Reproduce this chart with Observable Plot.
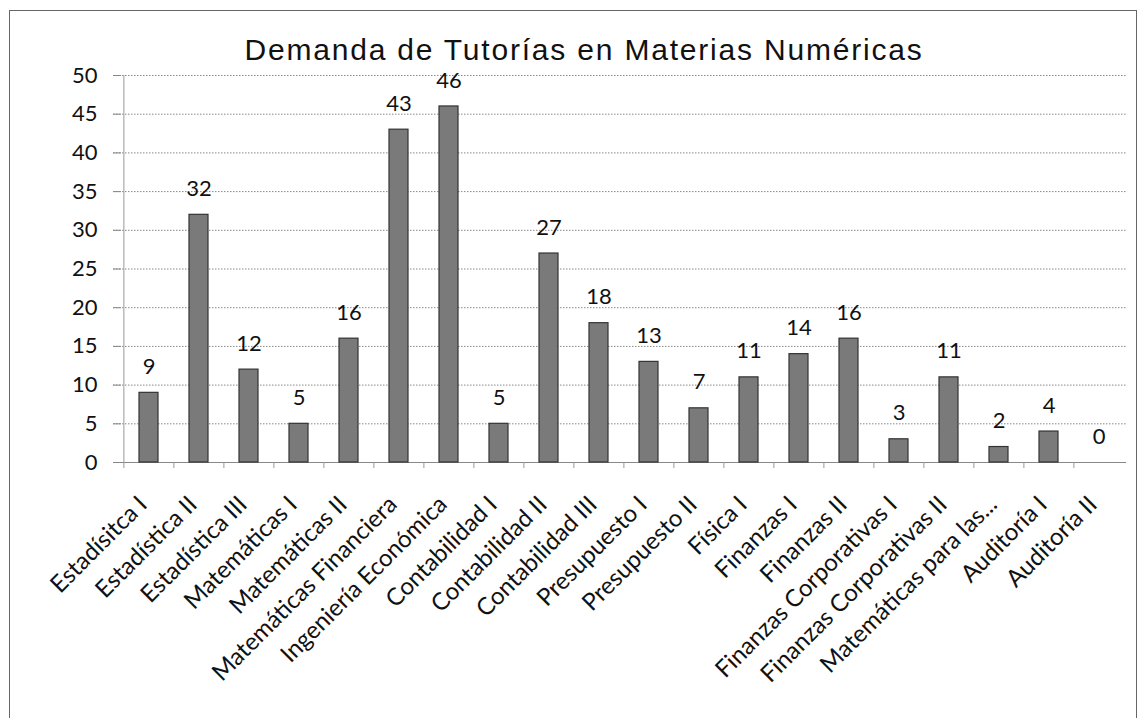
<!DOCTYPE html>
<html>
<head>
<meta charset="utf-8">
<script src="https://cdn.jsdelivr.net/npm/d3@7"></script>
<script src="https://cdn.jsdelivr.net/npm/@observablehq/plot@0.6"></script>
<style>
  html, body { margin: 0; padding: 0; background: #fff; }
  #wrap { position: relative; width: 1143px; height: 718px; overflow: hidden; }
  #frame { position: absolute; left: 9px; top: 10px; width: 1128px; height: 760px; border: 1.5px solid #666; box-sizing: border-box; }
  #title { position: absolute; top: 35px; left: 0; width: 1168px; text-align: center; font-family: "Liberation Sans", Arial, sans-serif; font-size: 30px; letter-spacing: 1.8px; line-height: 1; color: #111; }
  #chart { position: absolute; top: 60px; left: 0; }
</style>
</head>
<body>
<div id="wrap">
  <div id="frame"></div>
  <div id="title">Demanda de Tutorías en Materias Numéricas</div>
  <div id="chart"></div>
</div>
<script>
const categories = [
  "Estadísitca I", "Estadística II", "Estadística III", "Matemáticas I", "Matemáticas II",
  "Matemáticas Financiera", "Ingeniería Económica", "Contabilidad I", "Contabilidad II",
  "Contabilidad III", "Presupuesto I", "Presupuesto II", "Física I", "Finanzas I",
  "Finanzas II", "Finanzas Corporativas I", "Finanzas Corporativas II",
  "Matemáticas para las...", "Auditoría I", "Auditoría II"
];
const values = [9, 32, 12, 5, 16, 43, 46, 5, 27, 18, 13, 7, 11, 14, 16, 3, 11, 2, 4, 0];
const yTicks = [0, 5, 10, 15, 20, 25, 30, 35, 40, 45, 50];

const data = categories.map((c, i) => ({ cat: c, val: values[i] }));

const W = 1143, H = 650, ML = 121, MR = 17, MT = 15, MB = 248;
const step = (W - ML - MR) / categories.length;
const font = "Lato, 'Open Sans', sans-serif";

const chart = Plot.plot({
  width: W,
  height: H,
  marginLeft: ML,
  marginRight: MR,
  marginTop: MT,
  marginBottom: MB,
  style: { fontFamily: font, fontSize: "22px", color: "#111", background: "transparent", overflow: "visible" },
  x: { domain: categories, paddingInner: 0.62, paddingOuter: 0.31, label: null },
  y: { domain: [0, 50], ticks: yTicks, label: null },
  marks: [
    Plot.gridY(yTicks, { stroke: "#888", strokeOpacity: 1, strokeDasharray: "1.5,1.5", strokeWidth: 1, insetLeft: -8 }),
    Plot.axisY({ ticks: yTicks, tickSize: 8, tickPadding: 16, stroke: "#888", fontSize: 22 }),
    Plot.ruleX([categories[0]], { x: d => d, dx: -step / 2, stroke: "#999", strokeWidth: 1 }),
    Plot.ruleY([0], { stroke: "#888", strokeWidth: 1.2 }),
    Plot.axisX({ tickSize: 6, tickFormat: () => "", dx: -step / 2, stroke: "#999" }),
    Plot.axisX({ tickSize: 0, tickRotate: -45, tickPadding: 38, dx: -6, fontSize: 24 }),
    Plot.barY(data, { x: "cat", y: "val", fill: "#7a7a7a", stroke: "#333", strokeWidth: 1.2 }),
    Plot.text(data, { x: "cat", y: "val", text: d => String(d.val), dy: -26, fontSize: 22, fill: "#111" })
  ]
});
document.getElementById("chart").appendChild(chart);
</script>
</body>
</html>
